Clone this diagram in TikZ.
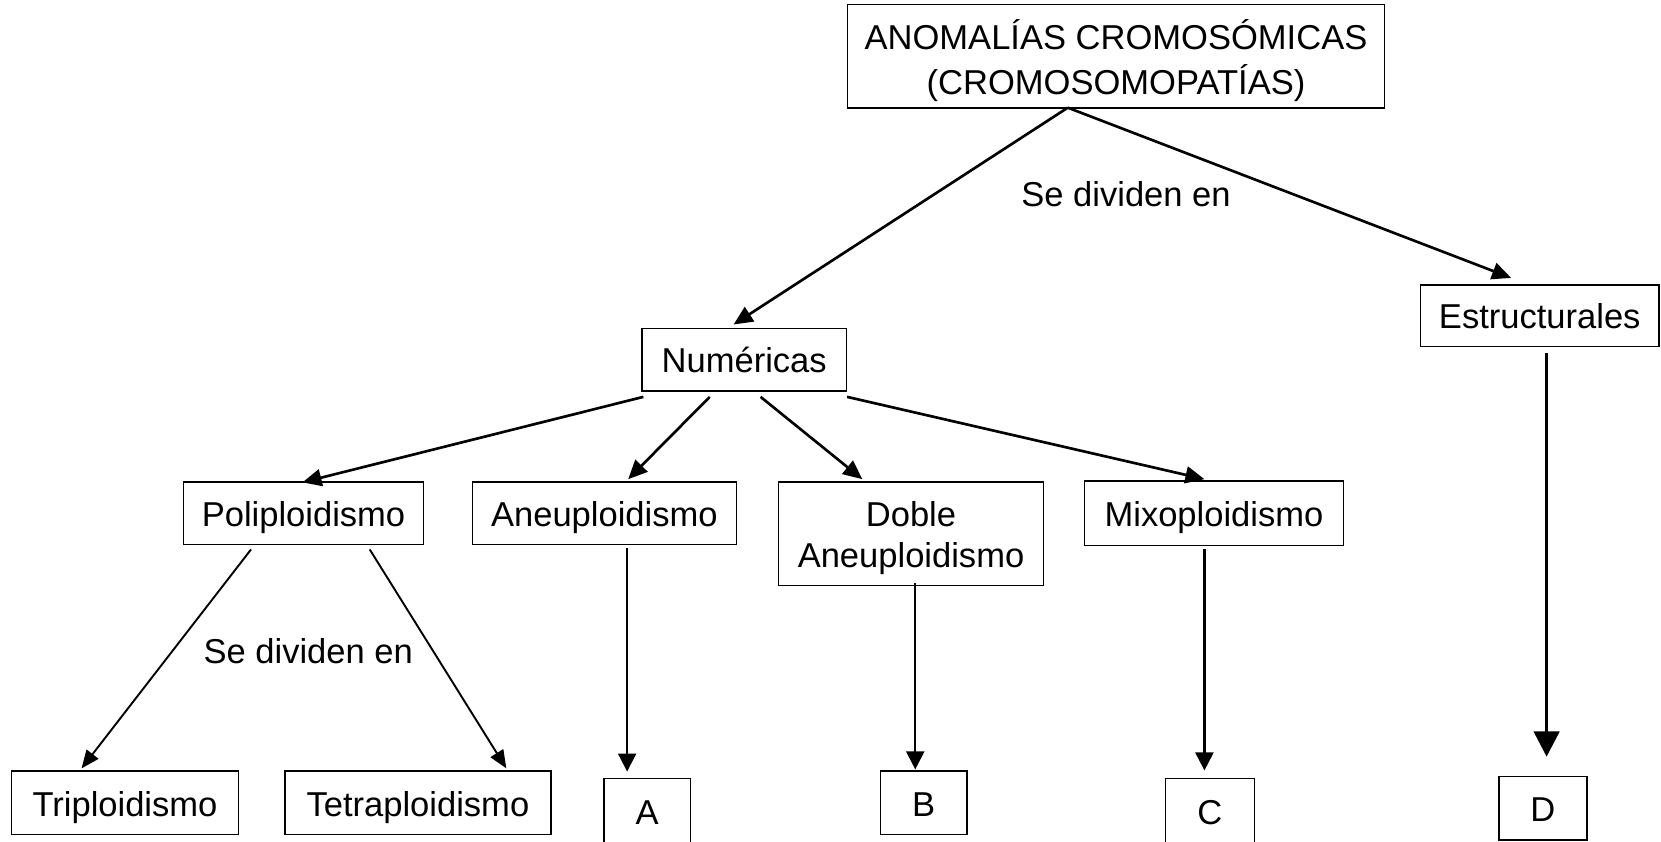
\documentclass[tikz,border=0pt]{standalone}
\usepackage{fontspec}
\setmainfont{Liberation Sans}
\usetikzlibrary{arrows.meta,calc}
\tikzset{
  box/.style={draw, line width=1.3pt, inner sep=0pt, align=center,
              text height=25pt, text depth=0pt,
              font=\fontsize{32.6}{40}\selectfont},
  lbl/.style={inner sep=0pt, font=\fontsize{32.6}{40}\selectfont},
  arr/.style={line width=2.5pt, -{Triangle[length=18pt,width=16pt]}},
  thinarr/.style={line width=1.8pt, -{Triangle[length=17pt,width=14pt]}},
  downarr/.style={line width=2pt, -{Triangle[length=17pt,width=17pt]}},
  bigarr/.style={line width=3.4pt, -{Triangle[length=24pt,width=24pt]}}
}
\begin{document}
\begin{tikzpicture}[x=1pt,y=-1pt]
\useasboundingbox (0,0) rectangle (1568,794);
\clip (0,0) rectangle (1568,794);

% boxes
\node[box, minimum width=507pt, minimum height=98pt,
      text height=72pt, text depth=0pt,
      font=\fontsize{32.6}{42}\selectfont] (top) at (1053.5,53)
      {ANOMALÍAS CROMOSÓMICAS\\(CROMOSOMOPATÍAS)};
\node[box, minimum width=193pt, minimum height=59pt] (num) at (702.5,339.5) {Numéricas};
\node[box, minimum width=225pt, minimum height=58pt] (est) at (1453.5,298) {Estructurales};

\node[box, minimum width=227pt, minimum height=59pt] (poli) at (286.5,484.5) {Poliploidismo};
\node[box, minimum width=249pt, minimum height=59pt] (aneu) at (570.5,484.5) {Aneuploidismo};
\node[box, minimum width=250pt, minimum height=98pt,
      text height=64pt, text depth=0pt,
      font=\fontsize{32.6}{39}\selectfont] (doble) at (860,504) {Doble\\Aneuploidismo};
\node[box, minimum width=244pt, minimum height=61pt] (mixo) at (1146,484.5) {Mixoploidismo};

\node[box, minimum width=214pt, minimum height=60pt] (tri) at (118,758) {Triploidismo};
\node[box, minimum width=251pt, minimum height=60pt] (tetra) at (394.5,758) {Tetraploidismo};
\node[box, minimum width=82pt, minimum height=62pt] (A) at (611,766) {A};
\node[box, minimum width=82pt, minimum height=60pt] (B) at (872,758) {B};
\node[box, minimum width=84pt, minimum height=62pt] (C) at (1142,766) {C};
\node[box, minimum width=83pt, minimum height=60pt] (D) at (1456.5,763) {D};

% labels
\node[lbl] (lab1) at (1063,183) {Se dividen en};
\node[lbl] (lab2) at (291,615) {Se dividen en};

% connectors from the top box
\draw[arr] ($(top.south)+(-45.5,-1)$) -- ($(num.north)+(-10,-3)$);
\draw[arr] ($(top.south)+(-45.5,-1)$) -- ($(est.north)+(-27,-6)$);

% connectors from Numéricas
\draw[arr] ($(num.south west)+(2,5)$) -- ($(poli.north)+(-1,1)$);
\draw[arr] ($(num.south)+(-32.5,5)$) -- ($(aneu.north)+(22.5,-2)$);
\draw[arr] ($(num.south)+(15.5,5)$) -- ($(doble.north)+(-46,-2)$);
\draw[arr] ($(num.south east)+(0,5)$) -- ($(mixo.north)+(-9,-1)$);

% connectors from Poliploidismo
\draw[thinarr] ($(poli.south)+(-49.5,4)$) -- ($(tri.north)+(-41,-2)$);
\draw[thinarr] ($(poli.south)+(62.5,4)$) -- ($(tetra.north)+(83.5,-2)$);

% vertical connectors
\draw[downarr] ($(aneu.south)+(21.5,3)$) -- ($(A.north)+(-19,-6)$);
\draw[downarr] ($(doble.south)+(4,-3)$) -- ($(B.north)+(-8,-1)$);
\draw[downarr] ($(mixo.south)+(-9,3)$) -- ($(C.north)+(-5,-7)$);
\draw[bigarr] ($(est.south)+(6.5,6)$) -- ($(D.north)+(3.5,-18)$);
\end{tikzpicture}
\end{document}
